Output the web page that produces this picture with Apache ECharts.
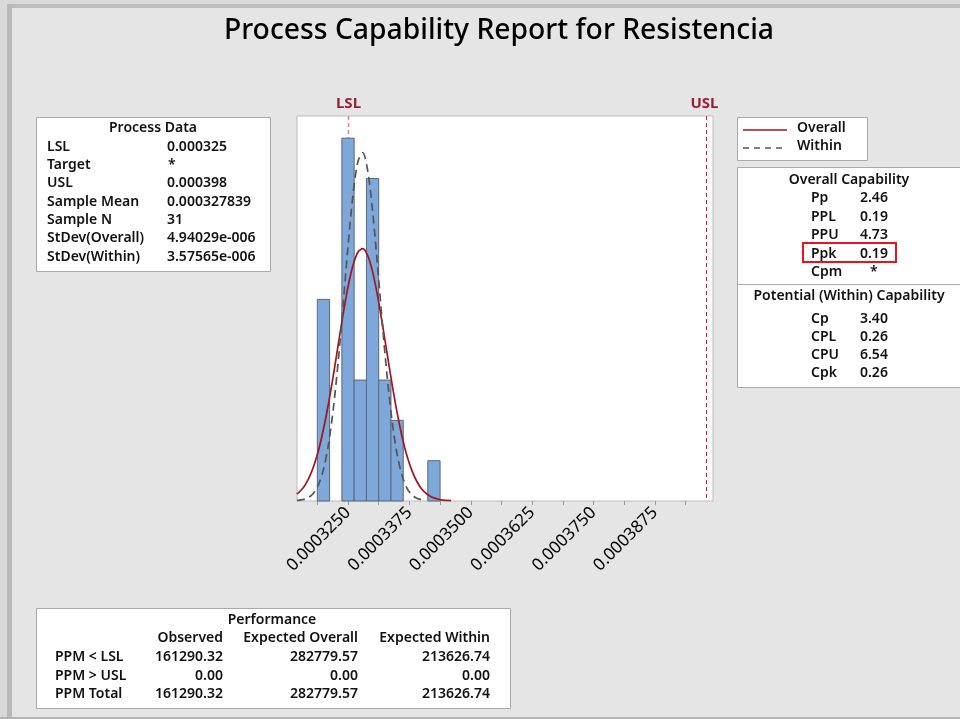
<!DOCTYPE html>
<html>
<head>
<meta charset="utf-8">
<script src="https://cdn.jsdelivr.net/npm/echarts@6/dist/echarts.min.js"></script>
<style>
  html, body { margin: 0; padding: 0; background: #e5e5e5; }
  #chart { width: 960px; height: 719px; }
</style>
</head>
<body>
<div id="chart"></div>
<script>
// histogram bins (start of each bin) and counts
const binStarts = [0.00031875, 0.00032125, 0.00032375, 0.00032625, 0.00032875, 0.00033125, 0.00033375, 0.00033625, 0.00033875, 0.00034125]
const binCounts = [5, 0, 9, 3, 8, 3, 2, 0, 0, 1]
const binWidth = 0.0000025

// fitted curves (in count units)
const curveX = [0.0003146, 0.000316, 0.000317, 0.000318, 0.000319, 0.000320, 0.000321, 0.000322, 0.000323, 0.000324,
  0.000325, 0.000326, 0.000327, 0.000328, 0.000329, 0.000330, 0.000331, 0.000332, 0.000333, 0.000334,
  0.000335, 0.000336, 0.000337, 0.000338, 0.000339, 0.000340, 0.000341, 0.000342, 0.000343, 0.000344, 0.000346]
const overallY = [0.17, 0.35, 0.56, 0.86, 1.26, 1.78, 2.40, 3.11, 3.87, 4.63,
  5.31, 5.84, 6.17, 6.26, 6.09, 5.69, 5.10, 4.39, 3.63, 2.88,
  2.19, 1.60, 1.12, 0.76, 0.49, 0.30, 0.18, 0.10, 0.06, 0.03, 0.01]
const withinY = [0.01, 0.04, 0.09, 0.20, 0.41, 0.78, 1.39, 2.28, 3.46, 4.86,
  6.31, 7.58, 8.41, 8.64, 8.20, 7.20, 5.85, 4.39, 3.05, 1.96,
  1.16, 0.64, 0.32, 0.15, 0.07, 0.03]

// spec limits
const limitNames = ['LSL', 'USL']
const limitValues = [0.000325, 0.000398]

const tickValues = [0.00031875, 0.000325, 0.00033125, 0.0003375, 0.00034375, 0.00035, 0.00035625,
  0.0003625, 0.00036875, 0.000375, 0.00038125, 0.0003875, 0.00039375]
const labelValues = [0.000325, 0.0003375, 0.00035, 0.0003625, 0.000375, 0.0003875]

// tables
const processLabels = ['LSL', 'Target', 'USL', 'Sample Mean', 'Sample N', 'StDev(Overall)', 'StDev(Within)']
const processValues = ['0.000325', '*', '0.000398', '0.000327839', '31', '4.94029e-006', '3.57565e-006']
const overallCapLabels = ['Pp', 'PPL', 'PPU', 'Ppk', 'Cpm']
const overallCapValues = ['2.46', '0.19', '4.73', '0.19', '*']
const withinCapLabels = ['Cp', 'CPL', 'CPU', 'Cpk']
const withinCapValues = ['3.40', '0.26', '6.54', '0.26']
const perfRows = ['PPM < LSL', 'PPM > USL', 'PPM Total']
const perfObserved = ['161290.32', '0.00', '161290.32']
const perfExpOverall = ['282779.57', '0.00', '282779.57']
const perfExpWithin = ['213626.74', '0.00', '213626.74']

const FONT = '"Noto Sans", "Open Sans", sans-serif'
const OVERALL_COLOR = '#a1161e'
const WITHIN_COLOR = '#555'

function box (x, y, w, h) {
  return { type: 'rect', shape: { x: x + 0.5, y: y + 0.5, width: w, height: h },
    style: { fill: '#fff', stroke: '#a9a9a9', lineWidth: 1 }, z: 10 }
}
function txt (x, y, s, align) {
  return { type: 'text', x: x, y: y, z: 11,
    style: { text: s, fill: '#111', font: '600 14px ' + FONT, align: align || 'left', verticalAlign: 'middle' } }
}

let graphics = []
// window frame
graphics.push({ type: 'rect', shape: { x: 0, y: 0, width: 960, height: 4 }, style: { fill: '#d9d9d9' } })
graphics.push({ type: 'rect', shape: { x: 0, y: 4, width: 960, height: 4 }, style: { fill: '#bcbcbc' } })
graphics.push({ type: 'rect', shape: { x: 0, y: 0, width: 7, height: 719 }, style: { fill: '#d9d9d9' } })
graphics.push({ type: 'rect', shape: { x: 7, y: 4, width: 5, height: 715 }, style: { fill: '#b9b9b9' } })
graphics.push({ type: 'rect', shape: { x: 0, y: 717, width: 960, height: 2 }, style: { fill: '#b5b5b5' } })

// legend
graphics.push(box(737, 117, 130, 43))
graphics.push({ type: 'line', shape: { x1: 743, y1: 130, x2: 787, y2: 130 }, style: { stroke: OVERALL_COLOR, lineWidth: 1.6 }, z: 11 })
graphics.push({ type: 'line', shape: { x1: 743, y1: 148, x2: 787, y2: 148 }, style: { stroke: WITHIN_COLOR, lineWidth: 1.6, lineDash: [6, 5] }, z: 11 })
graphics.push(txt(797, 128.5, 'Overall'))
graphics.push(txt(797, 146, 'Within'))

// process data
graphics.push(box(36, 117, 234, 154))
graphics.push(txt(153, 128, 'Process Data', 'center'))
processLabels.forEach((l, i) => {
  graphics.push(txt(47, 146.7 + i * 18.35, l))
  graphics.push(txt(l === 'Target' ? 168 : 167, 146.7 + i * 18.35, processValues[i]))
})

// capability
graphics.push(box(737, 167, 240, 220))
graphics.push({ type: 'line', shape: { x1: 737, y1: 284.5, x2: 960, y2: 284.5 }, style: { stroke: '#a9a9a9', lineWidth: 1 }, z: 11 })
graphics.push(txt(849, 180, 'Overall Capability', 'center'))
overallCapLabels.forEach((l, i) => {
  graphics.push(txt(811, 198.3 + i * 18.5, l))
  graphics.push(txt(l === 'Cpm' ? 870 : 860, 198.3 + i * 18.5, overallCapValues[i]))
})
graphics.push({ type: 'rect', shape: { x: 803, y: 243, width: 93, height: 19 },
  style: { fill: 'none', stroke: '#e8141c', lineWidth: 2 }, z: 12 })
graphics.push(txt(849, 296, 'Potential (Within) Capability', 'center'))
withinCapLabels.forEach((l, i) => {
  graphics.push(txt(811, 319 + i * 18.1, l))
  graphics.push(txt(860, 319 + i * 18.1, withinCapValues[i]))
})

// performance
graphics.push(box(36, 608, 474, 100))
graphics.push(txt(272, 620.5, 'Performance', 'center'))
graphics.push(txt(223, 638.5, 'Observed', 'right'))
graphics.push(txt(358, 638.5, 'Expected Overall', 'right'))
graphics.push(txt(490, 638.5, 'Expected Within', 'right'))
perfRows.forEach((l, i) => {
  let y = 657.5 + i * 18.2
  graphics.push(txt(55, y, l))
  graphics.push(txt(223, y, perfObserved[i], 'right'))
  graphics.push(txt(358, y, perfExpOverall[i], 'right'))
  graphics.push(txt(490, y, perfExpWithin[i], 'right'))
})

let barData = []
binStarts.forEach((s, i) => {
  if (binCounts[i] > 0) barData.push([s, s + binWidth, binCounts[i]])
})

let option = {
  backgroundColor: '#e5e5e5',
  animation: false,
  title: {
    text: 'Process Capability Report for Resistencia',
    left: 494,
    top: 12,
    textAlign: 'center',
    textStyle: { fontFamily: FONT, fontSize: 28.3, fontWeight: 500, color: '#000' }
  },
  grid: {
    show: true,
    left: 297,
    top: 116,
    width: 416,
    height: 385,
    backgroundColor: '#fff',
    borderColor: '#bdbdbd',
    borderWidth: 1
  },
  xAxis: {
    type: 'value',
    min: 0.00031461,
    max: 0.00039934,
    axisLine: { show: false },
    splitLine: { show: false },
    axisTick: {
      show: true,
      customValues: tickValues,
      length: 4,
      lineStyle: { color: '#999' }
    },
    axisLabel: {
      customValues: labelValues,
      rotate: 45,
      margin: 9,
      fontFamily: FONT,
      fontSize: 17,
      color: '#000',
      formatter: v => v.toFixed(7)
    }
  },
  yAxis: {
    type: 'value',
    min: 0,
    max: 9.55,
    show: false
  },
  graphic: graphics,
  series: [
    {
      name: 'limits',
      type: 'custom',
      z: 1,
      silent: true,
      data: limitValues.map(v => [v, 0]),
      renderItem (params, api) {
        let x = Math.round(api.coord([api.value(0), 0])[0]) + 0.5
        let cs = params.coordSys
        let isLsl = params.dataIndex === 0
        return {
          type: 'group',
          children: [
            {
              type: 'line',
              shape: { x1: x, y1: cs.y, x2: x, y2: cs.y + cs.height },
              style: { stroke: isLsl ? '#ef8080' : '#cc1b2b', lineWidth: isLsl ? 1.5 : 1, lineDash: [4, 3] }
            },
            {
              type: 'text',
              x: isLsl ? x : x - 2,
              y: cs.y - 12,
              style: { text: limitNames[params.dataIndex], fill: '#9b1d30', font: 'bold 15px ' + FONT, align: 'center', verticalAlign: 'middle' }
            }
          ]
        }
      }
    },
    {
      name: 'bars',
      type: 'custom',
      z: 2,
      data: barData,
      encode: { x: [0, 1], y: 2 },
      renderItem (params, api) {
        let p0 = api.coord([api.value(0), api.value(2)])
        let p1 = api.coord([api.value(1), 0])
        return {
          type: 'rect',
          shape: { x: p0[0], y: p0[1], width: p1[0] - p0[0], height: p1[1] - p0[1] },
          style: { fill: '#7ea7da', stroke: '#5b6878', lineWidth: 1 }
        }
      }
    },
    {
      name: 'Overall',
      type: 'line',
      z: 4,
      symbol: 'none',
      smooth: 0.3,
      data: curveX.map((x, i) => [x, overallY[i]]),
      lineStyle: { color: OVERALL_COLOR, width: 1.7 }
    },
    {
      name: 'Within',
      type: 'line',
      z: 4,
      symbol: 'none',
      smooth: 0.3,
      data: withinY.map((y, i) => [curveX[i], y]),
      lineStyle: { color: WITHIN_COLOR, width: 1.7, type: [8, 5] }
    }
  ]
}

let chart = echarts.init(document.getElementById('chart'))
chart.setOption(option)
</script>
</body>
</html>
